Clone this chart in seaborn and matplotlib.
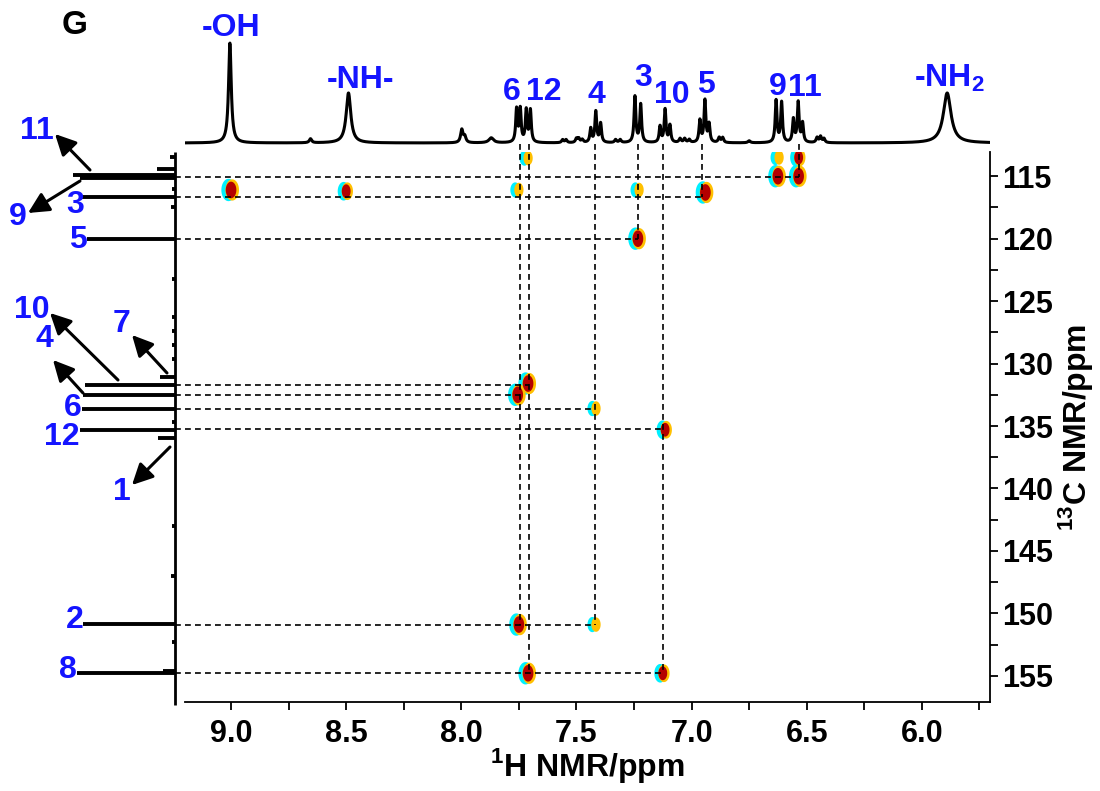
import numpy as np
import pandas as pd
import matplotlib
matplotlib.use("Agg")
import matplotlib.pyplot as plt
from matplotlib.path import Path
import seaborn as sns

# ---------------- data ----------------
# 1H spectrum lines: position (ppm), height (relative), half-width (ppm)
h_ppm = [9.005, 8.655, 8.49, 7.998, 7.985, 7.87, 7.760, 7.744, 7.718, 7.700,
         7.56, 7.545, 7.50, 7.49, 7.475, 7.438, 7.416, 7.395, 7.33, 7.31,
         7.246, 7.221, 7.137, 7.115, 7.094, 7.05, 7.03, 7.01,
         6.964, 6.942, 6.924, 6.88, 6.865, 6.75, 6.633, 6.609,
         6.558, 6.537, 6.518, 6.455, 6.44, 6.425, 5.89]
h_int = [1.00, 0.04, 0.50, 0.13, 0.06, 0.05, 0.33, 0.33, 0.32, 0.32,
         0.03, 0.03, 0.04, 0.04, 0.03, 0.14, 0.31, 0.19, 0.03, 0.03,
         0.46, 0.38, 0.16, 0.33, 0.17, 0.04, 0.04, 0.03,
         0.22, 0.42, 0.18, 0.05, 0.05, 0.02, 0.42, 0.40,
         0.23, 0.40, 0.19, 0.05, 0.06, 0.04, 0.50]
h_wid = [0.007, 0.006, 0.012, 0.006, 0.006, 0.012, 0.0045, 0.0045, 0.0045, 0.0045,
         0.005, 0.005, 0.005, 0.005, 0.005, 0.0045, 0.0045, 0.0045, 0.005, 0.005,
         0.0045, 0.0045, 0.0045, 0.0045, 0.0045, 0.005, 0.005, 0.005,
         0.0045, 0.0045, 0.0045, 0.005, 0.005, 0.006, 0.0045, 0.0045,
         0.0045, 0.0045, 0.0045, 0.005, 0.005, 0.005, 0.020]

# 13C spectrum lines: position (ppm), length (px-like units)
c_ppm = [113.5, 114.4, 114.9, 115.15, 116.0, 116.7, 117.5, 120.0, 123.2, 126.3,
         127.4, 128.5, 129.6, 131.1, 131.7, 132.5, 133.6, 134.7, 135.3, 136.0,
         143.0, 147.0, 150.85, 152.3, 154.65, 154.8]
c_int = [5, 18, 102, 95, 3, 93, 4, 88, 3, 3,
         3, 3, 3, 15, 90, 92, 93, 3, 95, 17,
         3, 4, 92, 3, 12, 98]

# HMBC cross peaks: 1H ppm, 13C ppm, strength (1 weak .. 3 strong)
xp_h = [9.0, 8.5, 7.755, 7.715, 7.233, 6.94, 7.233, 6.625, 6.625, 6.535,
        6.535, 7.71, 7.755, 7.42, 7.115, 7.75, 7.42, 7.71, 7.125]
xp_c = [116.1, 116.2, 116.1, 113.55, 116.1, 116.3, 120.0, 113.5, 115.0, 113.5,
        115.0, 131.6, 132.5, 133.6, 135.3, 150.9, 150.9, 154.8, 154.8]
xp_lvl = [3, 2, 1, 1, 1, 3, 3, 1, 3, 2,
          3, 3, 3, 1, 2, 3, 1, 3, 2]

# correlation guide lines
hl_c = [115.1, 116.7, 120.0, 131.7, 132.5, 133.6, 135.25, 150.9, 154.8]
hl_h_end = [6.535, 6.955, 7.233, 7.706, 7.745, 7.42, 7.125, 7.42, 7.125]
vl_h = [7.745, 7.706, 7.42, 7.233, 7.125, 6.955, 6.535]
vl_c_end = [150.9, 154.8, 150.9, 120.0, 154.8, 116.7, 115.1]

# labels
top_labels = ["-OH", "-NH-", "6", "12", "4", "3", "10", "5", "9", "11", r"-NH$_{\mathbf{2}}$"]
left_labels = ["11", "9", "3", "5", "10", "7", "4", "6", "12", "1", "2", "8"]
x_ticks = [9.0, 8.5, 8.0, 7.5, 7.0, 6.5, 6.0]
y_ticks = [115, 120, 125, 130, 135, 140, 145, 150, 155]

# ---------------- style ----------------
sns.set_style("ticks")
plt.rcParams["font.family"] = ["Liberation Sans", "DejaVu Sans"]
plt.rcParams["font.weight"] = "bold"
plt.rcParams["mathtext.fontset"] = "custom"
plt.rcParams["mathtext.rm"] = "Liberation Sans"
plt.rcParams["mathtext.bf"] = "Liberation Sans:bold"
for k in ["text.color", "axes.labelcolor", "xtick.color", "ytick.color", "axes.edgecolor"]:
    plt.rcParams[k] = "black"

W, H = 1100, 791
fig = plt.figure(figsize=(11, 7.91), dpi=100)
BLUE = "#1414ff"

def fx(px):
    return px / W

def fy(py):
    return 1 - py / H

# axes geometry (image pixels)
L, R, T, B = 185, 990, 152, 702
ax = fig.add_axes([fx(L), fy(B), fx(R) - fx(L), fy(T) - fy(B)])
ax_top = fig.add_axes([fx(L), fy(150), fx(R) - fx(L), fy(0) - fy(150)])
ax_left = fig.add_axes([0, fy(B), fx(L), fy(T) - fy(B)])

XLIM = (9.2, 5.704)
YLIM = (157.1, 113.06)

# ---------------- top 1H spectrum ----------------
grid = np.linspace(XLIM[0], XLIM[1], 6000)
spec = np.zeros_like(grid)
for p, h, w in zip(h_ppm, h_int, h_wid):
    spec += h / (1 + ((grid - p) / w) ** 2)
df_h = pd.DataFrame({"ppm": grid, "I": spec})
sns.lineplot(data=df_h, x="ppm", y="I", ax=ax_top, color="black", lw=2.2,
             estimator=None, sort=False)
ax_top.set_xlim(*XLIM)
ax_top.set_ylim(-0.07, 1.43)
ax_top.axis("off")

top_pos = [(9.0, 1.15), (8.44, 0.63), (7.78, 0.51), (7.64, 0.51), (7.415, 0.48),
           (7.21, 0.65), (7.085, 0.48), (6.94, 0.58), (6.625, 0.56), (6.51, 0.55),
           (5.88, 0.65)]
for lab, (x, y) in zip(top_labels, top_pos):
    ax_top.text(x, y, lab, color=BLUE, fontsize=23, fontweight="bold",
                ha="center", va="center")

# ---------------- left 13C spectrum ----------------
ax_left.set_xlim(-175, 10)
ax_left.set_ylim(*YLIM)
ax_left.axis("off")
ax_left.vlines(0, YLIM[1], 157.34, color="black", lw=2.0, clip_on=False)
ax_left.hlines(c_ppm, [-v for v in c_int], 0, color="black", lw=2.8)

label_px = [(37, 131), (18, 217), (75, 205), (78, 240), (32, 310), (122, 324),
            (44, 339), (73, 408), (62, 437), (122, 492), (75, 620), (68, 670)]
for lab, (px, py) in zip(left_labels, label_px):
    fig.text(fx(px), fy(py), lab, color=BLUE, fontsize=23, fontweight="bold",
             ha="center", va="center")

arrows_px = [((90, 170), (55, 134)), ((80, 181), (28, 213)), ((118, 380), (50, 313)),
             ((167, 373), (132, 335)), ((83, 393), (53, 360)), ((170, 447), (132, 485))]
for (t0, t1) in arrows_px:
    fig.patches.append(matplotlib.patches.FancyArrowPatch(
        (fx(t0[0]), fy(t0[1])), (fx(t1[0]), fy(t1[1])), transform=fig.transFigure,
        arrowstyle="-|>,head_length=0.9,head_width=0.45", mutation_scale=14,
        color="black", lw=2.2, shrinkA=0, shrinkB=0))

# ---------------- main 2D HMBC ----------------
theta = np.linspace(0, 2 * np.pi, 60)
ell = Path(np.column_stack([0.32 * np.cos(theta), 0.5 * np.sin(theta)]), closed=True)

df_xp = pd.DataFrame({"h": xp_h, "c": xp_c, "lvl": xp_lvl})
base = {1: 120, 2: 180, 3: 260}
df_xp["s"] = df_xp["lvl"].map(base)

cyan = df_xp.assign(h=df_xp["h"] + 0.011)
sns.scatterplot(data=cyan, x="h", y="c", s=cyan["s"], marker=ell, color="#00f0ff",
                edgecolor="none", ax=ax, legend=False, zorder=2)
yel = df_xp.assign(h=df_xp["h"] - 0.005)
sns.scatterplot(data=yel, x="h", y="c", s=yel["s"] * 0.9, marker=ell, color="#ffc000",
                edgecolor="none", ax=ax, legend=False, zorder=2)
red = df_xp[df_xp["lvl"] >= 2]
sns.scatterplot(data=red, x="h", y="c", s=red["s"] * 0.55, marker=ell, color="#b40000",
                edgecolor="none", ax=ax, legend=False, zorder=2)

dash = (0, (3.5, 2.5))
ax.hlines(hl_c, 9.243, hl_h_end, color="black", lw=1.2, linestyles=[dash], clip_on=False, zorder=3)
ax.vlines(vl_h, 112.4, vl_c_end, color="black", lw=1.2, linestyles=[dash], clip_on=False, zorder=3)

ax.set_xlim(*XLIM)
ax.set_ylim(*YLIM)
ax.set_xticks(x_ticks)
ax.set_xticklabels([f"{v:.1f}" for v in x_ticks])
ax.set_xticks(np.arange(6.0 - 0.25, 9.2, 0.5), minor=True)
ax.set_yticks(y_ticks)
ax.set_yticklabels([str(v) for v in y_ticks])
ax.set_yticks(np.arange(117.5, 157, 5), minor=True)
ax.yaxis.tick_right()
ax.yaxis.set_label_position("right")
for s in ["top", "left"]:
    ax.spines[s].set_visible(False)
for s in ["right", "bottom"]:
    ax.spines[s].set_linewidth(1.3)
ax.tick_params(which="both", direction="out", length=6, width=1.3, labelsize=22)
ax.tick_params(axis="x", pad=6)
ax.tick_params(axis="y", pad=3)
for t in ax.get_xticklabels() + ax.get_yticklabels():
    t.set_fontweight("bold")
ax.set_xlabel(r"$^{\mathbf{1}}$H NMR/ppm", fontsize=23, fontweight="bold", labelpad=-2)
ax.set_ylabel(r"$^{\mathbf{13}}$C NMR/ppm", fontsize=23, fontweight="bold", labelpad=2)

fig.text(fx(75), fy(25), "G", fontsize=24, fontweight="bold", ha="center", va="center")

fig.savefig("out.png", dpi=100)
